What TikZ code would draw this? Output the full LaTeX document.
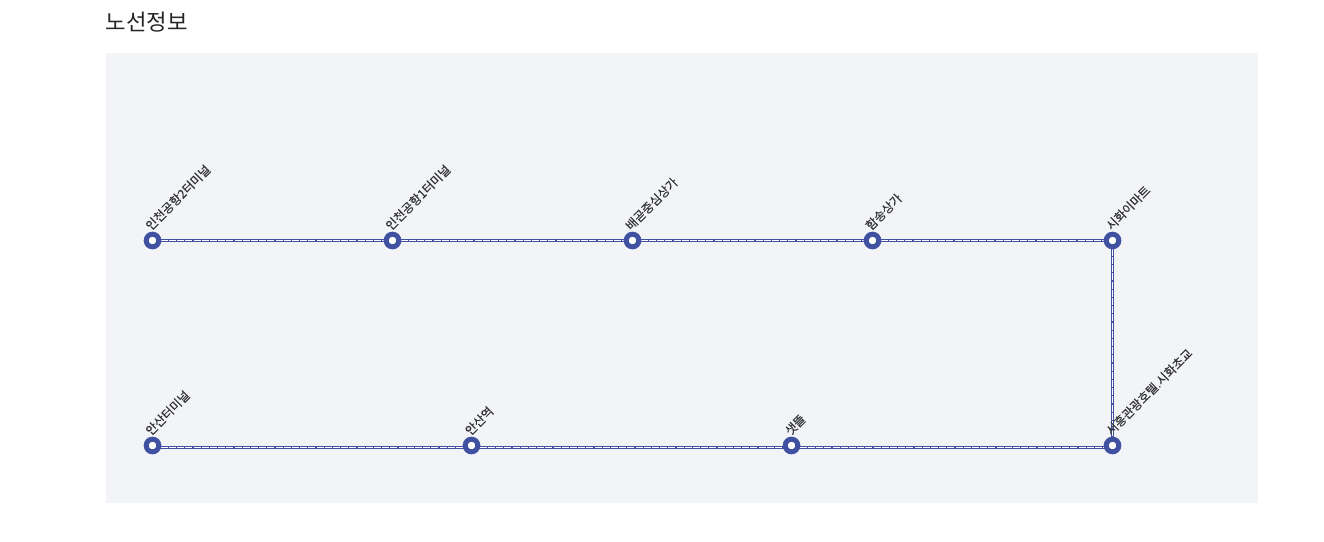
\documentclass[tikz,border=0pt]{standalone}
\usepackage{fontspec}
\newfontfamily\krfont{Noto Sans CJK KR}
\newfontfamily\krlabel[FakeBold=0.25]{Noto Sans CJK KR}
\definecolor{panel}{HTML}{F2F4F8}
\definecolor{route}{HTML}{3F51A0}
\definecolor{labelink}{HTML}{333333}
\tikzset{
  x=1pt,y=-1pt,
  stopdot/.style={circle,draw=route,fill=white,line width=5pt,minimum size=12.6pt,inner sep=0pt,outer sep=0pt},
  routeline/.style={draw=route,line width=3.2pt},
  routedash/.style={draw=white,line width=1pt,dash pattern=on 7pt off 1.2pt},
  stoplabel/.style={font=\krlabel\fontsize{12.2pt}{13pt}\selectfont,text=labelink,rotate=45,anchor=base west,inner sep=0pt,outer sep=0pt},
  titletext/.style={font=\krfont\fontsize{22.3pt}{25pt}\selectfont,text=black!85,anchor=base west,inner sep=0pt}
}
\begin{document}
\begin{tikzpicture}
\useasboundingbox (0,0) rectangle (1324,541);
\fill[white] (0,0) rectangle (1324,541);
\fill[panel] (106,53) rectangle (1258,503);
\node[titletext] (title) at (105.5,30) {노선정보};
% stops
\coordinate (a1c) at (152.5,240.5);
\coordinate (a2c) at (392.5,240.5);
\coordinate (a3c) at (632.5,240.5);
\coordinate (a4c) at (872.5,240.5);
\coordinate (a5c) at (1112.5,240.5);
\coordinate (b1c) at (152.5,447.5);
\coordinate (b2c) at (471.5,447.5);
\coordinate (b3c) at (791.5,447.5);
\coordinate (b4c) at (1112.5,447.5);
% connectors
\foreach \layer in {routeline,routedash}{
  \draw[\layer] (a1c) -- (a2c);
  \draw[\layer] (a2c) -- (a3c);
  \draw[\layer] (a3c) -- (a4c);
  \draw[\layer] (a4c) -- (a5c);
  \draw[\layer] (a5c) -- (b4c);
  \draw[\layer] (b1c) -- (b2c);
  \draw[\layer] (b2c) -- (b3c);
  \draw[\layer] (b3c) -- (b4c);
}
\node[stopdot] (a1) at (152.5,240.5) {};
\node[stopdot] (a2) at (392.5,240.5) {};
\node[stopdot] (a3) at (632.5,240.5) {};
\node[stopdot] (a4) at (872.5,240.5) {};
\node[stopdot] (a5) at (1112.5,240.5) {};
\node[stopdot] (b1) at (152.5,445.5) {};
\node[stopdot] (b2) at (471.5,445.5) {};
\node[stopdot] (b3) at (791.5,445.5) {};
\node[stopdot] (b4) at (1112.5,445.5) {};
\node[stoplabel] (la1) at (151,231) {인천공항2터미널};
\node[stoplabel] (la2) at (391,231) {인천공항1터미널};
\node[stoplabel] (la3) at (631,231) {배곧중심상가};
\node[stoplabel] (la4) at (871,231) {함송상가};
\node[stoplabel] (la5) at (1111.5,231) {시화이마트};
\node[stoplabel] (lb1) at (151,436) {안산터미널};
\node[stoplabel] (lb2) at (470.5,436) {안산역};
\node[stoplabel] (lb3) at (790.5,436) {샛뜰};
\node[stoplabel] (lb4) at (1111.5,436) {서흥관광호텔.시화초교};
\end{tikzpicture}
\end{document}
